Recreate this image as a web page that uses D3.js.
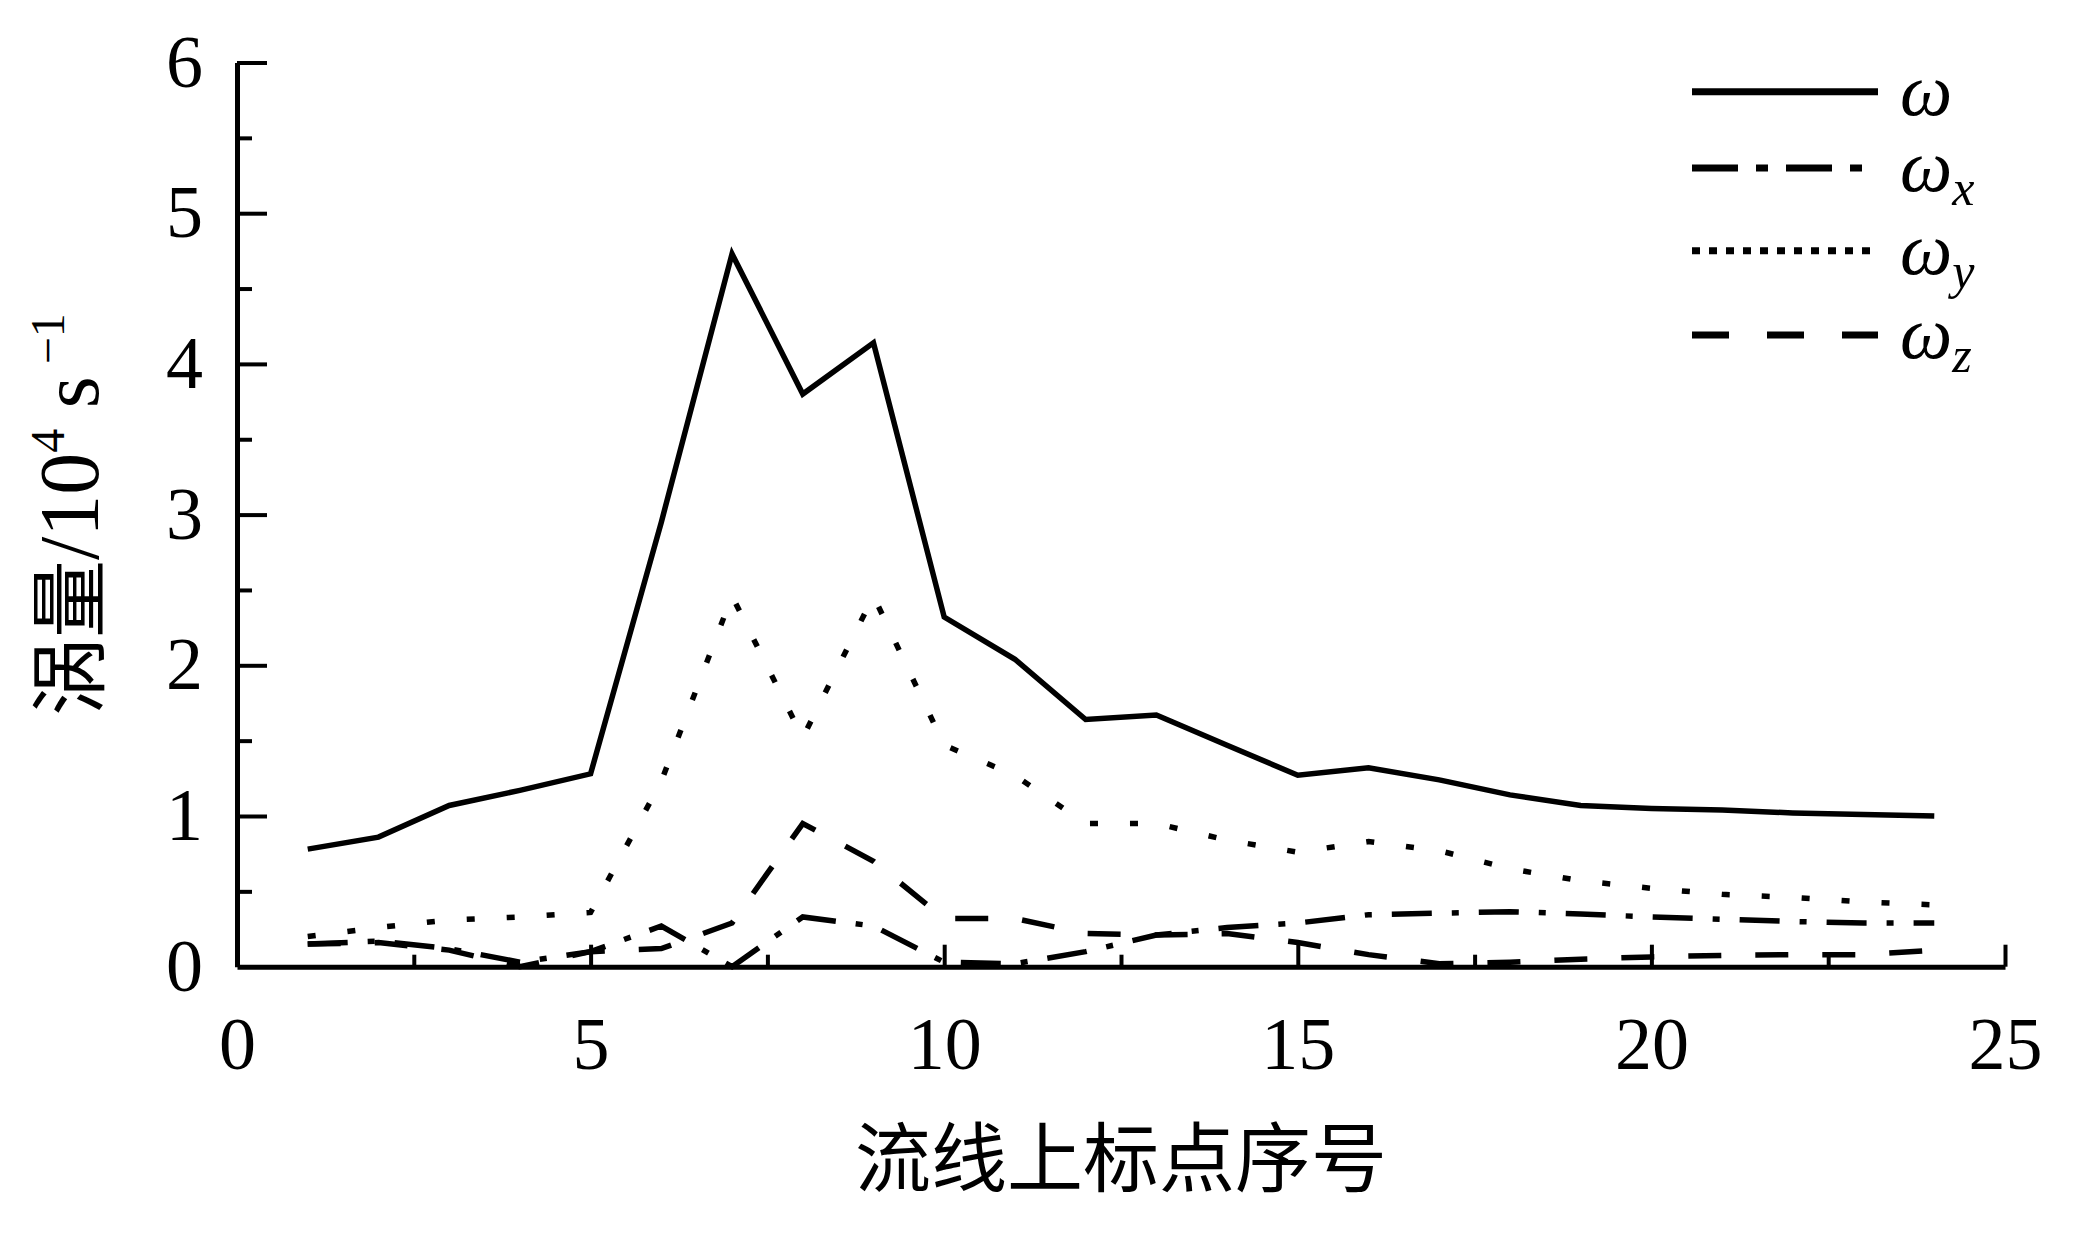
<!DOCTYPE html>
<html><head><meta charset="utf-8">
<script src="https://cdn.jsdelivr.net/npm/d3@7"></script>
<style>body{margin:0;background:#fff}</style>
</head><body>
<svg id="c" width="2085" height="1237" xmlns="http://www.w3.org/2000/svg"></svg>
<script>
// ---- data ----
const points = [1,2,3,4,5,6,7,8,9,10,11,12,13,14,15,16,17,18,19,20,21,22,23,24];
const omega  = [0.78,0.86,1.07,1.17,1.28,2.95,4.73,3.80,4.14,2.32,2.04,1.64,1.67,1.47,1.27,1.32,1.24,1.14,1.07,1.05,1.04,1.02,1.01,1.00];
const omegaX = [0.15,0.17,0.12,0.03,0.10,0.27,0.00,0.33,0.27,0.03,0.02,0.10,0.21,0.26,0.29,0.345,0.355,0.365,0.35,0.33,0.315,0.30,0.29,0.29];
const omegaY = [0.20,0.26,0.31,0.33,0.36,1.23,2.46,1.52,2.46,1.47,1.27,0.95,0.95,0.84,0.76,0.83,0.77,0.65,0.57,0.52,0.48,0.46,0.43,0.41];
const omegaZ = [0.15,0.16,0.11,0.00,0.10,0.12,0.29,0.95,0.70,0.32,0.32,0.22,0.21,0.22,0.16,0.08,0.02,0.03,0.05,0.065,0.075,0.08,0.08,0.11];
const xTicks = [0,5,10,15,20,25];
const xMinorTicks = [2.5,7.5,12.5,17.5,22.5];
const yTicks = [0,1,2,3,4,5,6];
const yMinorTicks = [0.5,1.5,2.5,3.5,4.5,5.5];
const seriesNames = ["ω","ω","ω","ω"];
const seriesSubs = ["","x","y","z"];
const xTitle = "流线上标点序号";

// ---- layout ----
const svg = d3.select("#c");
const x = d3.scaleLinear().domain([0,25]).range([237,2005]);
const y = d3.scaleLinear().domain([0,6]).range([966.7,62.5]);
const serif = "'Liberation Serif','Times New Roman',serif";
const cjk = "'Noto Sans CJK SC','Noto Sans CJK JP',sans-serif";

const series = [
  {vals: omega,  dash: null,          ldash: null},
  {vals: omegaX, dash: "40,20,7,20",  ldash: "46,18,12,18"},
  {vals: omegaY, dash: "8,32",        ldash: "8,9"},
  {vals: omegaZ, dash: "33,34",       ldash: "37,38"}
];

const line = d3.line().x((d,i)=>x(points[i])).y(d=>y(d));
const gLines = svg.append("g");
series.forEach(s=>{
  gLines.append("path").datum(s.vals)
    .attr("d", line)
    .attr("fill","none").attr("stroke","#000")
    .attr("stroke-width",5.5)
    .attr("stroke-linejoin","miter")
    .attr("stroke-dasharray", s.dash);
});

// axes
function styleAxis(g){
  g.select(".domain").attr("stroke","#000").attr("stroke-width",5);
  g.selectAll(".tick line").attr("stroke","#000").attr("stroke-width",4);
  g.selectAll(".tick text").attr("font-family",serif).attr("font-size",74).attr("fill","#000");
}
const gx = svg.append("g").attr("transform",`translate(0,${y(0)})`)
  .call(d3.axisBottom(x).tickValues(xTicks).tickFormat(d3.format("d")).tickSize(-22).tickSizeOuter(0).tickPadding(50));
styleAxis(gx);
gx.selectAll(".tick").filter(d=>d===0).select("line").remove();
const gxm = svg.append("g").attr("transform",`translate(0,${y(0)})`)
  .call(d3.axisBottom(x).tickValues(xMinorTicks).tickFormat("").tickSize(-12).tickSizeOuter(0));
styleAxis(gxm); gxm.select(".domain").remove();

const gy = svg.append("g").attr("transform",`translate(${x(0)},0)`)
  .call(d3.axisLeft(y).tickValues(yTicks).tickFormat(d3.format("d")).tickSize(-30).tickSizeOuter(0).tickPadding(34));
styleAxis(gy);
gy.selectAll(".tick").filter(d=>d===0).select("line").remove();
const gym = svg.append("g").attr("transform",`translate(${x(0)},0)`)
  .call(d3.axisLeft(y).tickValues(yMinorTicks).tickFormat("").tickSize(-15).tickSizeOuter(0));
styleAxis(gym); gym.select(".domain").remove();

// x title
svg.append("text").attr("x",(x(0)+x(25))/2).attr("y",1186)
  .attr("text-anchor","middle").attr("font-family",cjk).attr("font-size",76)
  .attr("fill","#000").text(xTitle);

// y title
const yt = svg.append("text")
  .attr("transform",`translate(98,${(y(0)+y(6))/2}) rotate(-90)`)
  .attr("text-anchor","middle").attr("fill","#000");
yt.append("tspan").attr("font-family",cjk).attr("font-size",78).text("涡量");
yt.append("tspan").attr("font-family",serif).attr("font-size",84).text("/10");
yt.append("tspan").attr("font-family",serif).attr("font-size",48).attr("dy",-34).text("4");
yt.append("tspan").attr("font-family",serif).attr("font-size",82).attr("dy",34).text(" s");
yt.append("tspan").attr("font-family",serif).attr("font-size",48).attr("dy",-34).text(" −1");

// legend
const legY = [91.7,168,250.7,335];
const gl = svg.append("g");
series.forEach((s,i)=>{
  gl.append("line").attr("x1",1692).attr("x2",1878).attr("y1",legY[i]).attr("y2",legY[i])
    .attr("stroke","#000").attr("stroke-width",7).attr("stroke-dasharray",s.ldash);
  const t = gl.append("text").attr("x",1900).attr("y",legY[i]+23)
    .attr("font-family",serif).attr("font-style","italic").attr("font-size",74).attr("fill","#000");
  t.append("tspan").text(seriesNames[i]);
  if(seriesSubs[i]) t.append("tspan").attr("font-size",50).attr("dy",14).text(seriesSubs[i]);
});
</script>
</body></html>
